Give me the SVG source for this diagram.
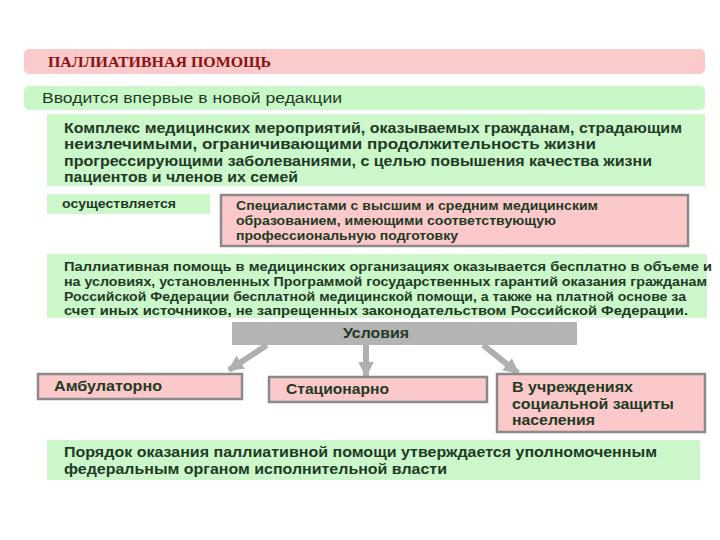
<svg xmlns="http://www.w3.org/2000/svg" width="720" height="540" viewBox="0 0 720 540">
<defs>
<style>
.t{font-family:"Liberation Sans",Arial,sans-serif;fill:#1f3a25}
.pink{fill:#fbc9c9;stroke:#8a8a8a;stroke-width:2.5}
.green{fill:#cbf7cb}
.conn{stroke:#b0b0b0;stroke-width:6;fill:none}
</style>
<marker id="ah" viewBox="0 0 10 10" refX="9" refY="5" markerWidth="2.6" markerHeight="2.6" orient="auto" markerUnits="strokeWidth">
<path d="M0,0 L10,5 L0,10 z" fill="#b0b0b0"/>
</marker>
</defs>
<rect width="720" height="540" fill="#ffffff"/>

<g id="title">
<rect x="24" y="49" width="681" height="25" rx="5" fill="#fbcaca"/>
<text x="48" y="67" font-family="'Liberation Serif','Times New Roman',serif" font-weight="bold" font-size="15" fill="#8b1212" textLength="223" lengthAdjust="spacingAndGlyphs">ПАЛЛИАТИВНАЯ ПОМОЩЬ</text>
</g>

<g id="intro">
<rect x="24" y="86" width="681" height="24" rx="5" fill="#c8f8c8"/>
<text class="t" x="42" y="103" font-size="15" textLength="300" lengthAdjust="spacingAndGlyphs">Вводится впервые в новой редакции</text>
</g>

<g id="definition">
<rect class="green" x="47" y="114" width="658" height="72"/>
<text class="t" font-size="15" font-weight="bold">
<tspan x="64" y="133" textLength="618" lengthAdjust="spacingAndGlyphs">Комплекс медицинских мероприятий, оказываемых гражданам, страдающим</tspan>
<tspan x="64" y="149" textLength="532" lengthAdjust="spacingAndGlyphs">неизлечимыми, ограничивающими продолжительность жизни</tspan>
<tspan x="64" y="166" textLength="588" lengthAdjust="spacingAndGlyphs">прогрессирующими заболеваниями, с целью повышения качества жизни</tspan>
<tspan x="64" y="182" textLength="234" lengthAdjust="spacingAndGlyphs">пациентов и членов их семей</tspan>
</text>
</g>

<g id="performed">
<rect class="green" x="47" y="194" width="163" height="20"/>
<text class="t" x="62" y="208" font-size="12" font-weight="bold" textLength="114" lengthAdjust="spacingAndGlyphs">осуществляется</text>
</g>

<g id="specialists">
<rect class="pink" x="221" y="195" width="467" height="51"/>
<text class="t" font-size="12.5" font-weight="bold">
<tspan x="236" y="210" textLength="362" lengthAdjust="spacingAndGlyphs">Специалистами с высшим и средним медицинским</tspan>
<tspan x="236" y="225" textLength="320" lengthAdjust="spacingAndGlyphs">образованием, имеющими соответствующую</tspan>
<tspan x="236" y="240" textLength="222" lengthAdjust="spacingAndGlyphs">профессиональную подготовку</tspan>
</text>
</g>

<g id="free">
<rect class="green" x="47" y="254" width="660" height="64"/>
<text class="t" font-size="12.5" font-weight="bold">
<tspan x="64" y="271" textLength="648" lengthAdjust="spacingAndGlyphs">Паллиативная помощь в медицинских организациях оказывается бесплатно в объеме и</tspan>
<tspan x="64" y="286" textLength="643" lengthAdjust="spacingAndGlyphs">на условиях, установленных Программой государственных гарантий оказания гражданам</tspan>
<tspan x="64" y="301" textLength="622" lengthAdjust="spacingAndGlyphs">Российской Федерации бесплатной медицинской помощи, а также на платной основе за</tspan>
<tspan x="64" y="315" textLength="624" lengthAdjust="spacingAndGlyphs">счет иных источников, не запрещенных законодательством Российской Федерации.</tspan>
</text>
</g>

<g id="conditions">
<rect x="232" y="322" width="345" height="23" fill="#b4b4b4"/>
<text class="t" x="376" y="338" font-size="14" font-weight="bold" text-anchor="middle" textLength="66" lengthAdjust="spacingAndGlyphs">Условия</text>
</g>

<g id="connectors">
<line class="conn" x1="267" y1="345" x2="229" y2="370" marker-end="url(#ah)"/>
<line class="conn" x1="366" y1="345" x2="366" y2="376" marker-end="url(#ah)"/>
<line class="conn" x1="483" y1="345" x2="518" y2="373" marker-end="url(#ah)"/>
</g>

<g id="ambulatory">
<rect class="pink" x="38" y="374" width="204" height="25"/>
<text class="t" x="54" y="391" font-size="14.5" font-weight="bold" textLength="108" lengthAdjust="spacingAndGlyphs">Амбулаторно</text>
</g>

<g id="inpatient">
<rect class="pink" x="269" y="377" width="218" height="25"/>
<text class="t" x="286" y="394" font-size="14.5" font-weight="bold" textLength="103" lengthAdjust="spacingAndGlyphs">Стационарно</text>
</g>

<g id="social">
<rect class="pink" x="497" y="374" width="208" height="58"/>
<text class="t" font-size="14.5" font-weight="bold">
<tspan x="512" y="392" textLength="121" lengthAdjust="spacingAndGlyphs">В учреждениях</tspan>
<tspan x="512" y="409" textLength="162" lengthAdjust="spacingAndGlyphs">социальной защиты</tspan>
<tspan x="512" y="425" textLength="83" lengthAdjust="spacingAndGlyphs">населения</tspan>
</text>
</g>

<g id="order">
<rect class="green" x="47" y="440" width="653" height="40"/>
<text class="t" font-size="15" font-weight="bold">
<tspan x="64" y="457" textLength="593" lengthAdjust="spacingAndGlyphs">Порядок оказания паллиативной помощи утверждается уполномоченным</tspan>
<tspan x="64" y="474" textLength="383" lengthAdjust="spacingAndGlyphs">федеральным органом исполнительной власти</tspan>
</text>
</g>
</svg>
